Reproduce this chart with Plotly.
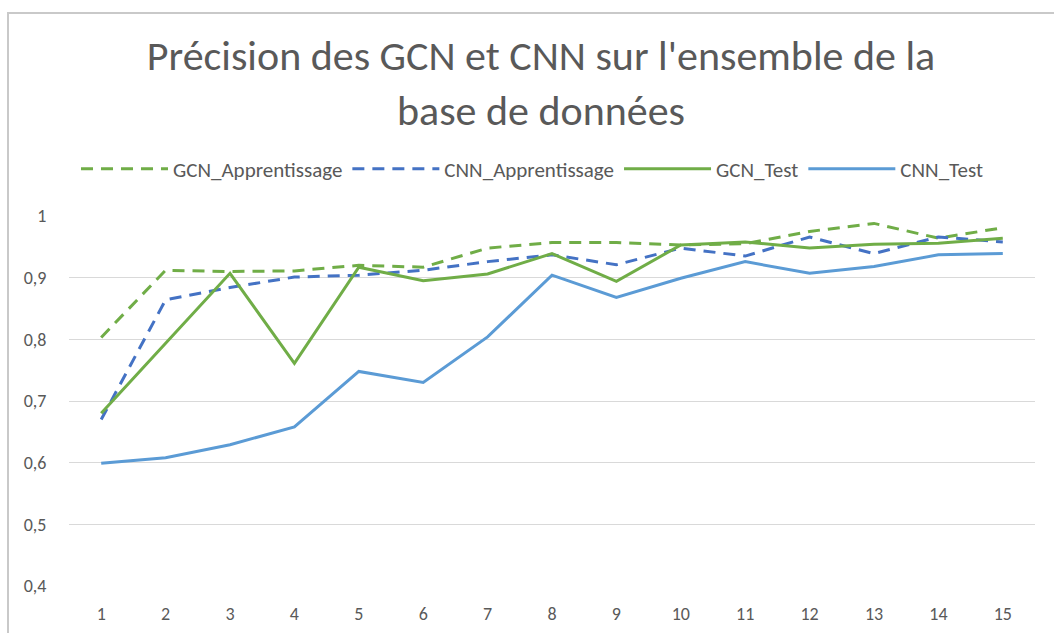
import plotly.graph_objects as go

epochs = list(range(1, 16))
gcn_apprentissage = [0.803, 0.912, 0.910, 0.911, 0.920, 0.917, 0.948, 0.957, 0.957, 0.953, 0.955, 0.975, 0.988, 0.964, 0.981]
cnn_apprentissage = [0.670, 0.864, 0.884, 0.901, 0.904, 0.912, 0.926, 0.937, 0.921, 0.948, 0.935, 0.966, 0.939, 0.966, 0.958]
gcn_test = [0.680, 0.793, 0.907, 0.761, 0.917, 0.895, 0.906, 0.939, 0.894, 0.953, 0.958, 0.948, 0.954, 0.956, 0.964]
cnn_test = [0.599, 0.608, 0.629, 0.658, 0.748, 0.730, 0.804, 0.904, 0.868, 0.899, 0.926, 0.907, 0.918, 0.937, 0.939]
y_ticks = [0.4, 0.5, 0.6, 0.7, 0.8, 0.9, 1.0]

FONT = "Carlito, 'Liberation Sans Narrow', 'Open Sans', sans-serif"
GREEN = "#70AD47"
BLUE = "#4472C4"
LIGHTBLUE = "#5B9BD5"

fig = go.Figure()
fig.add_trace(go.Scatter(x=epochs, y=gcn_apprentissage, name="GCN_Apprentissage", mode="lines",
                         line=dict(color=GREEN, width=3, dash="12px,8px")))
fig.add_trace(go.Scatter(x=epochs, y=cnn_apprentissage, name="CNN_Apprentissage", mode="lines",
                         line=dict(color=BLUE, width=3, dash="12px,8px")))
fig.add_trace(go.Scatter(x=epochs, y=gcn_test, name="GCN_Test", mode="lines",
                         line=dict(color=GREEN, width=3)))
fig.add_trace(go.Scatter(x=epochs, y=cnn_test, name="CNN_Test", mode="lines",
                         line=dict(color=LIGHTBLUE, width=3)))

fig.update_layout(
    width=1054, height=633,
    margin=dict(l=69, r=19, t=216, b=47, autoexpand=False),
    paper_bgcolor="white", plot_bgcolor="white",
    separators=", ",
    font=dict(family=FONT, color="#595959", size=18),
    title=dict(text="Précision des GCN et CNN sur l'ensemble de la<br>base de données",
               x=541/1054, xanchor="center", yref="container", y=1-70/633, yanchor="top",
               font=dict(family=FONT, size=42, color="#595959")),
    legend=dict(orientation="h", x=(532-69)/966, xanchor="center", y=1+47/370, yanchor="middle",
                font=dict(family=FONT, size=21, color="#595959"), bgcolor="rgba(0,0,0,0)",
                itemwidth=87, tracegroupgap=0),
    showlegend=True,
    shapes=[dict(type="rect", xref="paper", yref="paper",
                 x0=-61/966, x1=1.1, y0=-0.3, y1=1+203/370,
                 line=dict(color="#C9C9C9", width=2), fillcolor="rgba(0,0,0,0)", layer="below")],
)
fig.update_xaxes(range=[0.5, 15.5], tickvals=epochs, ticktext=[str(e) for e in epochs],
                 showgrid=False, zeroline=False, showline=False, automargin=False,
                 ticks="outside", ticklen=11, tickcolor="rgba(0,0,0,0)",
                 tickfont=dict(family=FONT, size=18, color="#595959"))
fig.update_yaxes(range=[0.4, 1.0], tickvals=y_ticks, showgrid=True, gridcolor="#D9D9D9", gridwidth=1,
                 zeroline=False, showline=False, automargin=False,
                 ticks="outside", ticklen=18, tickcolor="rgba(0,0,0,0)",
                 tickfont=dict(family=FONT, size=18, color="#595959"))

fig.write_html("out.html", config={"displayModeBar": False},
               post_script="document.body.style.margin='0';document.body.style.overflow='hidden';")
